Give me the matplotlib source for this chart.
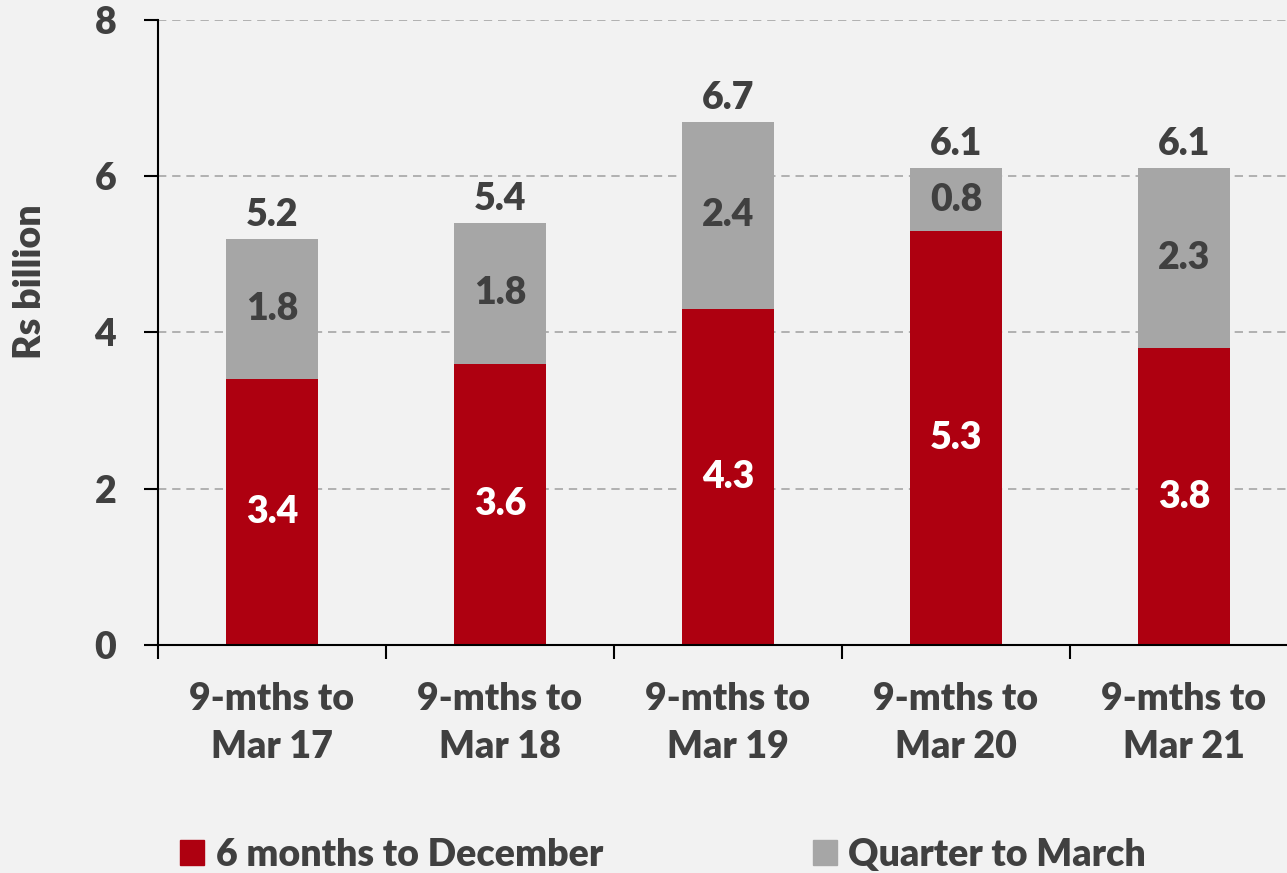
import matplotlib
matplotlib.use("Agg")
import matplotlib.pyplot as plt
from matplotlib.patches import Patch
import numpy as np

# Rs billion, by period
periods = ["9-mths to\nMar 17", "9-mths to\nMar 18", "9-mths to\nMar 19",
           "9-mths to\nMar 20", "9-mths to\nMar 21"]
six_months_dec = [3.4, 3.6, 4.3, 5.3, 3.8]
quarter_mar = [1.8, 1.8, 2.4, 0.8, 2.3]
totals = [5.2, 5.4, 6.7, 6.1, 6.1]
y_ticks = [0, 2, 4, 6, 8]

RED = "#ae0010"
GREY = "#a6a6a6"
BG = "#f2f2f2"
TXT = "#404040"
FS = 27

plt.rcParams["font.family"] = ["Lato", "DejaVu Sans"]
plt.rcParams["font.weight"] = "heavy"

fig = plt.figure(figsize=(12.87, 8.73), dpi=100, facecolor=BG)
ax = fig.add_axes([158 / 1287, 228 / 873, 1140 / 1287, 625 / 873])
ax.set_facecolor(BG)

x = np.arange(len(periods))
width = 0.4
ax.bar(x, six_months_dec, width, color=RED, zorder=3, label="6 months to December")
ax.bar(x, quarter_mar, width, bottom=six_months_dec, color=GREY, zorder=3,
       label="Quarter to March")

# value labels
for i in range(len(x)):
    ax.text(x[i], six_months_dec[i] / 2, f"{six_months_dec[i]:.1f}", ha="center",
            va="center", color="white", fontsize=FS, zorder=4)
    ax.text(x[i], six_months_dec[i] + quarter_mar[i] / 2, f"{quarter_mar[i]:.1f}",
            ha="center", va="center", color=TXT, fontsize=FS, zorder=4)
    ax.annotate(f"{totals[i]:.1f}", (x[i], six_months_dec[i] + quarter_mar[i]),
                xytext=(0, 5), textcoords="offset points", ha="center", va="bottom",
                color=TXT, fontsize=FS, zorder=4)

ax.set_xlim(-0.5, len(periods) - 0.5)
ax.set_ylim(0, 8)
ax.set_yticks(y_ticks)
ax.set_yticklabels([str(t) for t in y_ticks])
ax.set_xticks(x)
ax.set_xticklabels(periods, linespacing=1.5)
ax.set_xticks(np.arange(-0.5, len(periods)), minor=True)

ax.tick_params(axis="x", which="major", length=0, pad=27, labelsize=FS, labelcolor=TXT)
ax.tick_params(axis="x", which="minor", length=10, width=1.5, direction="out", color="black")
ax.tick_params(axis="y", length=10, width=1.5, pad=20, labelsize=FS, labelcolor=TXT)

ax.grid(axis="y", linestyle=(0, (5, 3.5)), color=GREY, linewidth=1.2, zorder=0)
ax.yaxis.get_gridlines()[0].set_visible(False)

for s in ["top", "right"]:
    ax.spines[s].set_visible(False)
for s in ["left", "bottom"]:
    ax.spines[s].set_linewidth(1.5)
    ax.spines[s].set_color("black")
    ax.spines[s].set_zorder(5)

fig.text(30 / 1287, 1 - 282 / 873, "Rs billion", rotation=90, ha="center", va="center",
         color=TXT, fontsize=FS)

handles = [Patch(color=RED), Patch(color=GREY)]
fig.legend(handles, ["6 months to December", "Quarter to March"], ncol=2,
           loc="center left", bbox_to_anchor=(180 / 1287, 1 - 855 / 873),
           frameon=False, fontsize=FS, borderpad=0, borderaxespad=0,
           handlelength=0.65, handleheight=0.65, handletextpad=0.3,
           columnspacing=5.6, labelcolor=TXT)

fig.savefig("out.png", dpi=100, facecolor=BG)
